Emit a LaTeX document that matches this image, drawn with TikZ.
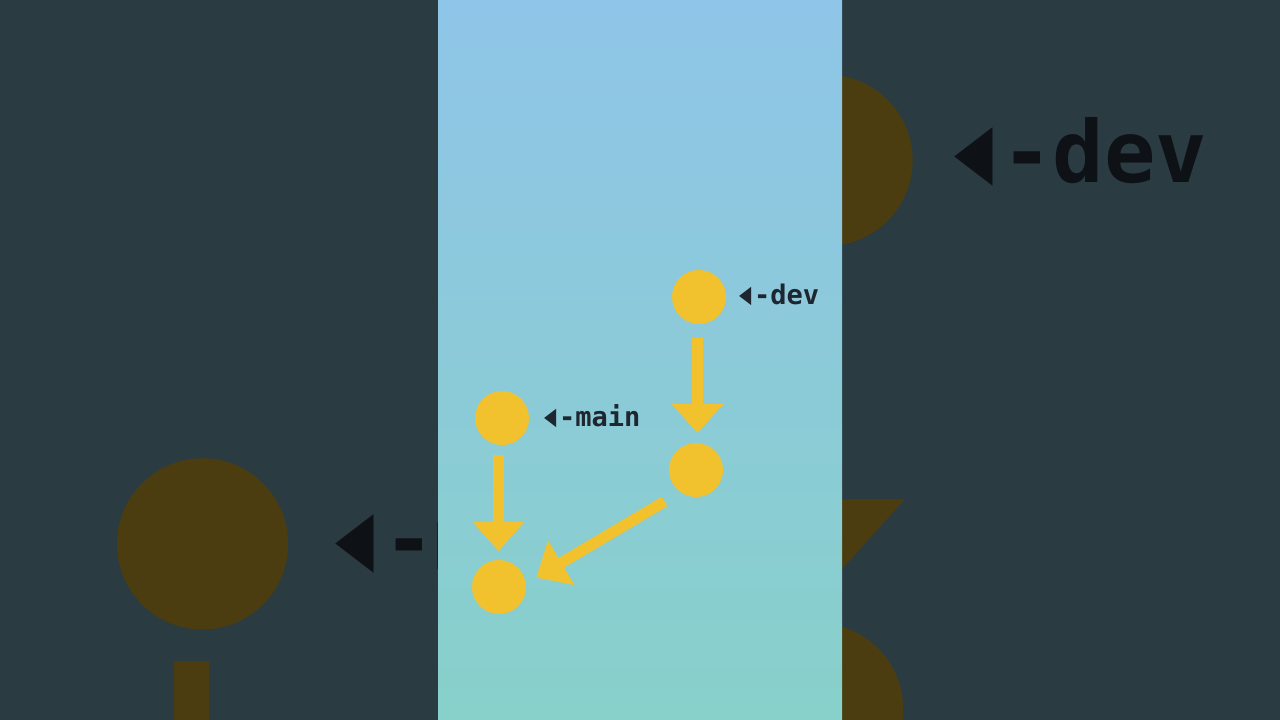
\documentclass[tikz,border=0pt]{standalone}
\usepackage{fontspec}
\usepackage{graphicx}
\newfontfamily\gitmono{DejaVu Sans Mono}
\usetikzlibrary{arrows.meta}
\definecolor{bgdark}{HTML}{2A3B42}
\definecolor{ptop}{HTML}{8FC5E8}
\definecolor{pbot}{HTML}{88D0CA}
\definecolor{commitcol}{HTML}{F2C12E}
\definecolor{labelcol}{HTML}{1E2630}
\definecolor{commitdim}{HTML}{4B3D0F}
\definecolor{labeldim}{HTML}{0E1216}

\newcommand\gs{1}
\newcommand\px[1]{640+\gs*(#1-640)}
\newcommand\py[1]{360+\gs*(#1-360)}
\newcommand\tri{\scalebox{0.75}[1.15]{◀}\kern0.1em}

% #1 name prefix, #2 scale, #3 fill colour, #4 text colour
\newcommand\gitgraph[4]{%
  \renewcommand\gs{#2}%
  \pgfmathsetmacro\gfs{27*#2}%
  \pgfmathsetmacro\gfl{31*#2}%
  \pgfmathsetmacro\gcs{54*#2}%
  \pgfmathsetmacro\glw{11*#2}%
  \pgfmathsetmacro\gaw{50*#2}%
  \pgfmathsetmacro\gal{29*#2}%
  \pgfmathsetmacro\gsa{14*#2}%
  \pgfmathsetmacro\gsb{10*#2}%
  \pgfmathsetmacro\gsc{9*#2}%
  \pgfmathsetmacro\gsd{43*#2}%
  \pgfmathsetmacro\gse{37*#2}%
  \pgfmathsetmacro\gox{5.5*#2}%
  \pgfmathsetmacro\goy{-9.5*#2}%
  \pgfmathsetmacro\gdx{-1.5*#2}%
  \pgfmathsetmacro\gmx{-3.5*#2}%
  \begin{scope}[
    commit/.style={circle, fill=#3, inner sep=0pt, outer sep=0pt, minimum size=\gcs pt},
    branchlabel/.style={anchor=base west, inner sep=0pt, text=#4,
      font=\gitmono\bfseries\fontsize{\gfs}{\gfl}\selectfont},
    link/.style={draw=#3, line width=\glw pt,
      -{Triangle[width=\gaw pt, length=\gal pt]}}]
    \node[commit] (#1dev)  at ({\px{699}},{\py{297}}) {};
    \node[commit] (#1mid)  at ({\px{696}},{\py{470}}) {};
    \node[commit] (#1main) at ({\px{502}},{\py{418}}) {};
    \node[commit] (#1base) at ({\px{499}},{\py{587}}) {};
    \node[branchlabel] (#1devlab)  at ({\px{739}},{\py{304}}) {\tri-dev};
    \node[branchlabel] (#1mainlab) at ({\px{544}},{\py{426}}) {\tri-main};
    \draw[link, shorten <=\gsa pt, shorten >=\gsb pt]
      ([xshift=\gdx pt]#1dev.south) -- ([xshift=\gdx pt]#1dev.south |- #1mid.north);
    \draw[link, shorten <=\gsb pt, shorten >=\gsc pt]
      ([xshift=\gmx pt]#1main.south) -- ([xshift=\gmx pt]#1main.south |- #1base.north);
    \draw[link, shorten <=\gsd pt, shorten >=\gse pt]
      ([xshift=\gox pt, yshift=\goy pt]#1mid.center) --
      ([xshift=\gox pt, yshift=\goy pt]#1base.center);
  \end{scope}}

\begin{document}
\begin{tikzpicture}[x=1pt, y=-1pt]
  \useasboundingbox (0,0) rectangle (1280,720);
  \clip (0,0) rectangle (1280,720);
  \fill[bgdark] (0,0) rectangle (1280,720);
  % dimmed, enlarged copy behind the panel
  \gitgraph{bg}{3.17}{commitdim}{labeldim}
  % central panel
  \shade[top color=ptop, bottom color=pbot] (438,0) rectangle (842,720);
  % the diagram
  \gitgraph{}{1}{commitcol}{labelcol}
\end{tikzpicture}
\end{document}
